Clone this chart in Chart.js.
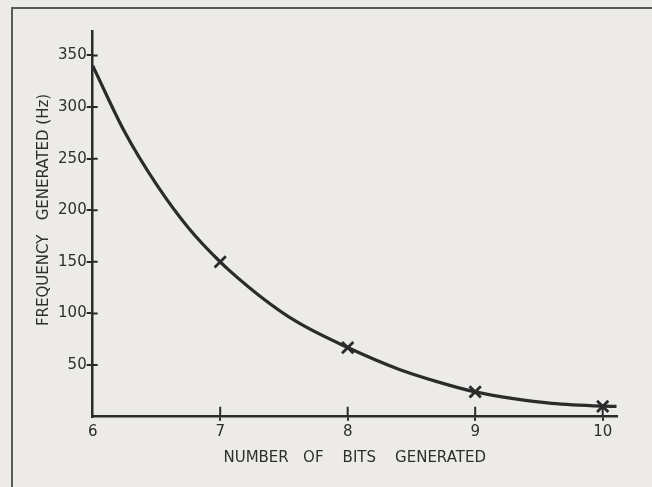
<!DOCTYPE html>
<html>
<head>
<meta charset="utf-8">
<script src="https://cdn.jsdelivr.net/npm/chart.js@4"></script>
<style>
  html, body { margin: 0; padding: 0; background: #ecebe7; }
  #wrap { width: 652px; height: 487px; }
</style>
</head>
<body>
<div id="wrap"><canvas id="bitsChart" width="652" height="487"></canvas></div>
<script>
// data
const curveBits = [6, 6.25, 6.5, 6.75, 7, 7.3, 7.6, 8, 8.4, 8.7, 9, 9.3, 9.6, 10, 10.11];
const curveFreq = [340, 276, 225, 183, 150, 118, 92, 67, 46, 34, 24, 17.5, 13, 10.3, 10];
const markBits = [7, 8, 9, 10];
const markFreq = [150, 67, 24, 10];
const xTickValues = [6, 7, 8, 9, 10];
const yTickValues = [50, 100, 150, 200, 250, 300, 350];

const INK = '#2b2b2b';
const PAPER = '#ecebe7';

// paper background + frame lines of the scan
const paperPlugin = {
  id: 'paper',
  beforeDraw(chart) {
    const ctx = chart.ctx;
    ctx.save();
    ctx.fillStyle = PAPER;
    ctx.fillRect(0, 0, chart.width, chart.height);
    ctx.strokeStyle = '#5a5a5a';
    ctx.lineWidth = 2;
    ctx.beginPath();
    ctx.moveTo(12, chart.height);
    ctx.lineTo(12, 8);
    ctx.lineTo(chart.width, 8);
    ctx.stroke();
    ctx.restore();
  }
};

// tick marks cross the axis: draw the inner half
const innerTicks = {
  id: 'innerTicks',
  afterDraw(chart) {
    const { ctx, chartArea, scales } = chart;
    ctx.save();
    ctx.strokeStyle = INK;
    ctx.lineWidth = 2;
    ctx.beginPath();
    scales.y.ticks.forEach(t => {
      const py = scales.y.getPixelForValue(t.value);
      ctx.moveTo(chartArea.left, py);
      ctx.lineTo(chartArea.left + 5, py);
    });
    scales.x.ticks.forEach(t => {
      if (t.value === 6) return;
      const px = scales.x.getPixelForValue(t.value);
      ctx.moveTo(px, chartArea.bottom);
      ctx.lineTo(px, chartArea.bottom - 10);
    });
    ctx.stroke();
    ctx.restore();
  }
};

Chart.defaults.font.family = "'DejaVu Sans', sans-serif";
Chart.defaults.color = '#2e2e2e';

new Chart(document.getElementById('bitsChart'), {
  type: 'scatter',
  data: {
    datasets: [
      {
        data: curveBits.map((b, i) => ({ x: b, y: curveFreq[i] })),
        showLine: true,
        borderColor: INK,
        borderWidth: 3.2,
        pointRadius: 0,
        cubicInterpolationMode: 'monotone'
      },
      {
        data: markBits.map((b, i) => ({ x: b, y: markFreq[i] })),
        showLine: false,
        pointStyle: 'crossRot',
        pointRadius: 8,
        borderColor: INK,
        borderWidth: 2.8
      }
    ]
  },
  options: {
    responsive: false,
    animation: false,
    layout: { padding: { top: 31.7, right: 35.3, left: 0, bottom: 0 } },
    plugins: { legend: { display: false }, tooltip: { enabled: false } },
    scales: {
      x: {
        type: 'linear',
        min: 6,
        max: 10.11,
        afterBuildTicks: axis => { axis.ticks = xTickValues.map(v => ({ value: v })); },
        afterFit: axis => { axis.height = 70.3; },
        border: { color: INK, width: 2.5 },
        grid: {
          drawOnChartArea: false,
          tickLength: 4,
          lineWidth: 2,
          color: c => (c.tick && c.tick.value === 6 ? 'rgba(0,0,0,0)' : INK)
        },
        ticks: { font: { size: 15 }, padding: 2, maxRotation: 0 },
        title: {
          display: true,
          text: 'NUMBER   OF    BITS    GENERATED',
          font: { size: 15 },
          padding: { top: 0, bottom: 20 }
        }
      },
      y: {
        min: 0,
        max: 373,
        afterBuildTicks: axis => { axis.ticks = yTickValues.map(v => ({ value: v })); },
        afterFit: axis => { axis.width = 92.7; },
        border: { color: INK, width: 2.5 },
        grid: { drawOnChartArea: false, tickLength: 6, lineWidth: 2, color: INK },
        ticks: { font: { size: 15 }, padding: 0 },
        title: {
          display: true,
          text: '      FREQUENCY   GENERATED (Hz)',
          font: { size: 15 },
          padding: { top: 35, bottom: 0 }
        }
      }
    }
  },
  plugins: [paperPlugin, innerTicks]
});
</script>
</body>
</html>
